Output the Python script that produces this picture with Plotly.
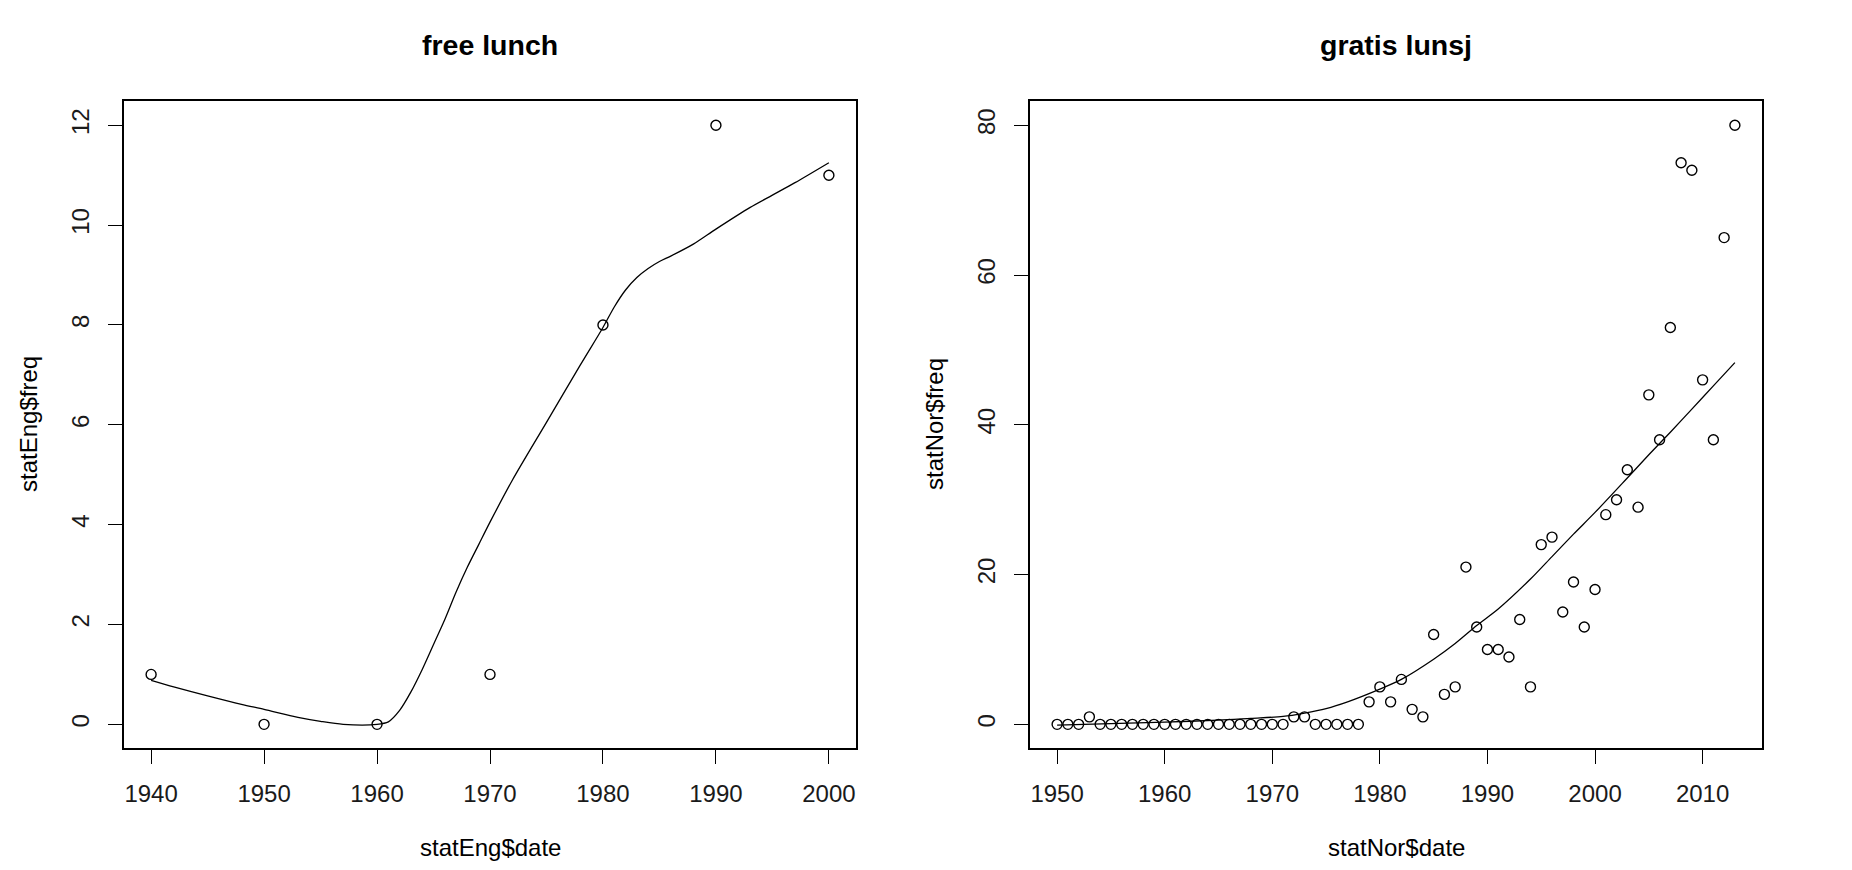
import plotly.graph_objects as go

# ---- data: free lunch (statEng) ----
eng_date = [1940, 1950, 1960, 1970, 1980, 1990, 2000]
eng_freq = [1, 0, 0, 1, 8, 12, 11]
eng_smooth_date = [1940, 1942, 1945, 1948, 1950, 1953, 1955, 1957, 1960, 1961, 1962, 1963,
                   1964, 1965, 1966, 1967, 1968, 1969, 1970, 1972, 1975, 1978, 1980, 1981,
                   1982, 1983, 1984, 1985, 1986, 1988, 1990, 1993, 1995, 1997, 2000]
eng_smooth_freq = [0.88, 0.75, 0.57, 0.40, 0.30, 0.14, 0.06, 0.0, 0.0, 0.05, 0.28, 0.65,
                   1.1, 1.6, 2.1, 2.65, 3.15, 3.6, 4.05, 4.9, 6.05, 7.2, 7.95, 8.36,
                   8.7, 8.95, 9.13, 9.27, 9.38, 9.62, 9.92, 10.35, 10.6, 10.85, 11.25]

# ---- data: gratis lunsj (statNor) ----
nor_date = list(range(1950, 2014))
nor_freq = [0, 0, 0, 1, 0, 0, 0, 0, 0, 0,      # 1950-1959
            0, 0, 0, 0, 0, 0, 0, 0, 0, 0,      # 1960-1969
            0, 0, 1, 1, 0, 0, 0, 0, 0, 3,      # 1970-1979
            5, 3, 6, 2, 1, 12, 4, 5, 21, 13,   # 1980-1989
            10, 10, 9, 14, 5, 24, 25, 15, 19, 13,  # 1990-1999
            18, 28, 30, 34, 29, 44, 38, 53, 75, 74,  # 2000-2009
            46, 38, 65, 80]                    # 2010-2013
nor_smooth_date = [1950, 1955, 1960, 1965, 1968, 1971, 1973, 1975, 1977, 1980, 1982, 1985,
                   1987, 1989, 1991, 1994, 1996, 1998, 2000, 2003, 2005, 2007, 2009, 2011,
                   2013]
nor_smooth_freq = [-0.1, 0.1, 0.3, 0.55, 0.8, 1.05, 1.5, 2.1, 3.0, 4.7, 6.0, 8.7,
                   10.8, 13.2, 15.4, 19.4, 22.4, 25.4, 28.3, 32.9, 36.0, 39.0, 42.1, 45.2,
                   48.3]

eng_xticks = [1940, 1950, 1960, 1970, 1980, 1990, 2000]
eng_yticks = [0, 2, 4, 6, 8, 10, 12]
nor_xticks = [1950, 1960, 1970, 1980, 1990, 2000, 2010]
nor_yticks = [0, 20, 40, 60, 80]

FONT = "Liberation Sans, Arial, sans-serif"
W, H = 1852, 870

fig = go.Figure()

marker = dict(symbol="circle-open", size=10, color="black", line=dict(width=1.4, color="black"))
line = dict(color="black", width=1.3)

fig.add_trace(go.Scatter(x=eng_date, y=eng_freq, mode="markers", marker=marker,
                         xaxis="x", yaxis="y", showlegend=False))
fig.add_trace(go.Scatter(x=eng_smooth_date, y=eng_smooth_freq, mode="lines", line=line,
                         line_shape="spline", line_smoothing=0.8,
                         xaxis="x", yaxis="y", showlegend=False))
fig.add_trace(go.Scatter(x=nor_date, y=nor_freq, mode="markers", marker=marker,
                         xaxis="x2", yaxis="y2", showlegend=False))
fig.add_trace(go.Scatter(x=nor_smooth_date, y=nor_smooth_freq, mode="lines", line=line,
                         line_shape="spline", line_smoothing=0.8,
                         xaxis="x2", yaxis="y2", showlegend=False))

def rng(lo, hi):
    d = (hi - lo) * 0.04
    return [lo - d, hi + d]

ydom = [1 - 748.3 / H, 1 - 101.3 / H]
lx = [124 / W, 856 / W]
rx = [1030 / W, 1762 / W]

axis_common = dict(showgrid=False, zeroline=False, showline=True, mirror=True,
                   linecolor="black", linewidth=1.5, ticks="outside", ticklen=14,
                   tickwidth=1.2, tickcolor="black",
                   tickfont=dict(family=FONT, size=24, color="#1a1a1a"))

fig.update_layout(
    width=W, height=H, margin=dict(l=0, r=0, t=0, b=0),
    paper_bgcolor="white", plot_bgcolor="white",
    xaxis=dict(domain=lx, range=rng(1940, 2000), tickvals=eng_xticks, anchor="y",
               ticklabelstandoff=9, **axis_common),
    yaxis=dict(domain=ydom, range=rng(0, 12), tickvals=eng_yticks, anchor="x",
               tickangle=-90, ticklabelstandoff=10, **axis_common),
    xaxis2=dict(domain=rx, range=rng(1950, 2013), tickvals=nor_xticks, anchor="y2",
                ticklabelstandoff=9, **axis_common),
    yaxis2=dict(domain=ydom, range=rng(0, 80), tickvals=nor_yticks, anchor="x2",
                tickangle=-90, ticklabelstandoff=10, **axis_common),
)

ann = []
def add_text(text, xpx, ypx, size, bold=False, angle=0):
    ann.append(dict(text=f"<b>{text}</b>" if bold else text, xref="paper", yref="paper",
                    x=xpx / W, y=1 - ypx / H, xanchor="center", yanchor="middle",
                    showarrow=False, textangle=angle,
                    font=dict(family=FONT, size=size, color="black")))

add_text("free lunch", 490, 45, 28.5, bold=True)
add_text("gratis lunsj", 1396, 45, 28.5, bold=True)
add_text("statEng$date", 490, 847, 24)
add_text("statNor$date", 1396, 847, 24)
add_text("statEng$freq", 29, 424, 24, angle=-90)
add_text("statNor$freq", 935, 424, 24, angle=-90)
fig.update_layout(annotations=ann)

fig.write_html("out.html", config={"displayModeBar": False},
               post_script="document.body.style.margin='0px';document.body.style.overflow='hidden';")
